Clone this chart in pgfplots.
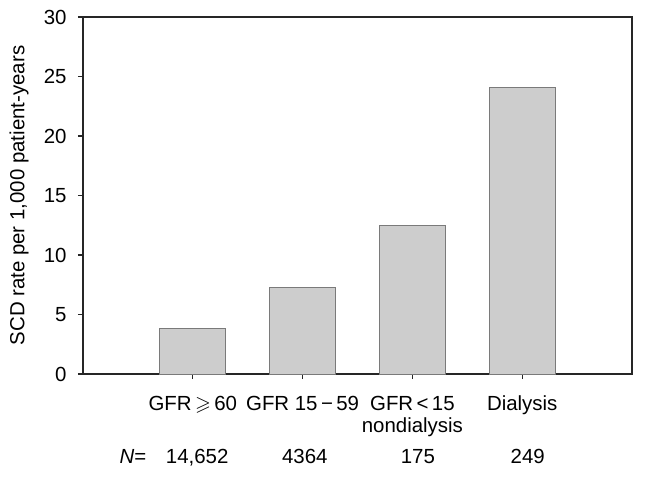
\documentclass[border=0pt]{standalone}
\usepackage{amssymb}
\usepackage{fontspec}
\setmainfont{Liberation Sans}
\usepackage{pgfplots}
\pgfplotsset{compat=1.18}
\newcommand\lf{\fontsize{20.5}{22}\selectfont}
\definecolor{barfill}{HTML}{CDCDCD}
\definecolor{baredge}{HTML}{7A7A7A}
\begin{document}
\begin{tikzpicture}[font=\lf]
\begin{axis}[
  scale only axis, width=549bp, height=357bp,
  xmin=0, xmax=5, ymin=0, ymax=30,
  ytick={0,5,...,30},
  xtick={1,2,3,4},
  xticklabels={GFR\,$\geqslant$\,60\\\mbox{}, GFR 15\,−\,59\\\mbox{}, GFR\,<\,15\\nondialysis, Dialysis\\\mbox{}},
  xticklabel style={align=center, font=\lf, anchor=base, yshift=-53bp},
  yticklabel style={font=\lf, xshift=-8bp},
  /pgf/number format/assume math mode=true,
  axis line style={line width=1.6bp, black!85},
  tick style={line width=1.2bp, black!85},
  tick align=outside, xtick pos=bottom, ytick pos=left,
  major tick length=5bp,
  ybar, bar width=66bp,
  clip=false,
  ylabel={SCD rate per 1,000 patient-years},
  ylabel style={font=\lf, at={(axis description cs:-0.1166,0.5)}, anchor=center},
]
\addplot[fill=barfill, draw=baredge, line width=1bp] coordinates {(1,3.8) (2,7.25) (3,12.45) (4,24.05)};
\node[anchor=base, yshift=-89bp, font=\lf] at (axis cs:0.455,0) {\textit{N}=};
\node[anchor=base, yshift=-89bp, font=\lf] at (axis cs:1.04,0) {14,652};
\node[anchor=base, yshift=-89bp, font=\lf] at (axis cs:2.02,0) {4364};
\node[anchor=base, yshift=-89bp, font=\lf] at (axis cs:3.05,0) {175};
\node[anchor=base, yshift=-89bp, font=\lf] at (axis cs:4.05,0) {249};
\path ([shift={(-83bp,-111bp)}]rel axis cs:0,0) rectangle ([shift={(13bp,17bp)}]rel axis cs:1,1);
\end{axis}
\end{tikzpicture}
\end{document}
